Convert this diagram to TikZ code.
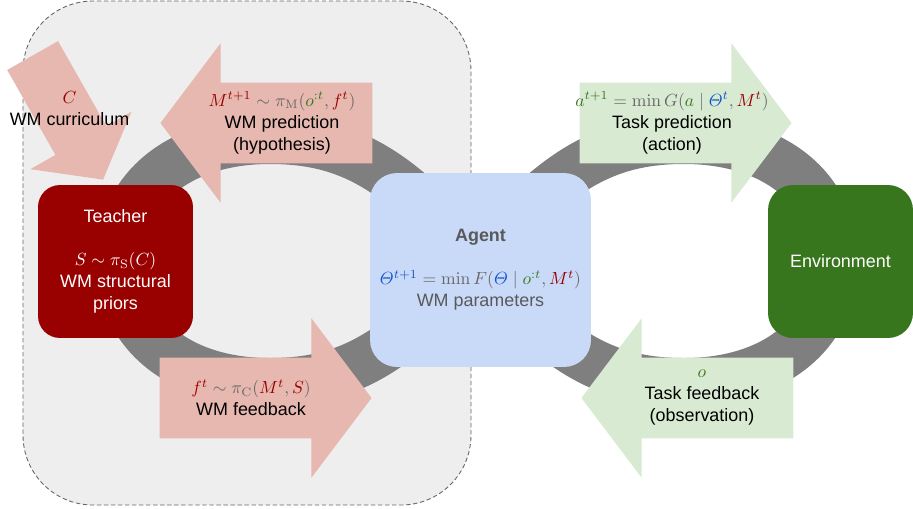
\documentclass[tikz,border=0pt]{standalone}
\usepackage{amsmath}
\usepackage[no-math]{fontspec}
\setmainfont{Liberation Sans}
\usetikzlibrary{shapes.arrows}
\definecolor{wmred}{HTML}{990000}
\definecolor{wmgreen}{HTML}{38761D}
\definecolor{wmblue}{HTML}{1155CC}
\definecolor{wmgray}{HTML}{666666}
\definecolor{agenttext}{HTML}{595959}
\definecolor{pinkfill}{HTML}{E6B8AF}
\definecolor{greenfill}{HTML}{D9EAD3}
\definecolor{agentfill}{HTML}{C9DAF8}
\definecolor{teacherred}{HTML}{990000}
\definecolor{envgreen}{HTML}{38761D}
\definecolor{loopgray}{HTML}{7F7F7F}
\definecolor{groupgray}{HTML}{EEEEEE}
\newcommand{\lblfont}{\fontsize{10.2}{12.5}\selectfont}
\tikzset{
box/.style={rounded corners=0.45cm, inner sep=0pt, align=center, font=\lblfont, minimum height=3.06cm}, % the three players
blockarrow/.style={single arrow, inner xsep=0pt, inner ysep=0.8cm, anchor=tip, minimum height=4.24cm,
  single arrow head extend=0.79cm, single arrow tip angle=105.9}, % big flat arrows
lbl/.style={align=center, font=\lblfont, inner sep=0pt}, % text on the arrows
loopband/.style={draw=loopgray, line width=0.96cm, line join=round}, % the figure eight behind
groupbox/.style={draw=wmgray, fill=groupgray, dash pattern=on 2.5pt off 1.5pt, line width=0.5pt, rounded corners=1.4cm},
}

\begin{document}
\begin{tikzpicture}[x=0.02cm, y=-0.02cm]
  \useasboundingbox (0,0) rectangle (913,508);
  \draw[groupbox] (23,1) rectangle (471,505);

  % figure eight
  \coordinate (cross) at (477,261);
  \draw[loopband] (cross) .. controls (554,171) and (604,140) .. (684,140)
    .. controls (774,140) and (834,188) .. (834,261)
    .. controls (834,334) and (774,382) .. (684,382)
    .. controls (604,382) and (554,351) .. (cross)
    .. controls (400,171) and (350,140) .. (270,140)
    .. controls (180,140) and (120,188) .. (120,261)
    .. controls (120,334) and (180,382) .. (270,382)
    .. controls (350,382) and (400,351) .. cycle;

  \node[blockarrow, fill=pinkfill, rotate=-60.4, minimum height=2.854cm, inner ysep=0.578cm,
    single arrow head extend=0.577cm, single arrow tip angle=104.5] (currarrow) at (103.3,180) {};
  \node[blockarrow, fill=pinkfill, shape border rotate=180] (predarrow) at (160,123) {};
  \node[blockarrow, fill=pinkfill] (feedarrow) at (372,398) {};
  \node[blockarrow, fill=greenfill] (taskarrow) at (792,123) {};
  \node[blockarrow, fill=greenfill, shape border rotate=180] (obsarrow) at (581,398) {};

  \node[box, fill=teacherred, text=white, minimum width=3.1cm, rounded corners=0.44cm] (teacher) at (115.5,261.5)
    {Teacher\\[12pt]$S\sim\pi_{\mathrm{S}}(C)$\\WM structural\\priors};
  \node[box, fill=agentfill, text=agenttext, minimum width=4.42cm, minimum height=3.88cm, rounded corners=0.54cm] (agent) at (480.5,270)
    {\textbf{Agent}\\[12pt]$\color{wmblue}\varTheta^{t+1}\color{wmgray}=\min F(\color{wmblue}\varTheta\color{wmgray}\mid\color{wmgreen}o^{:t}\color{wmgray},\color{wmred}M^{t}\color{wmgray})$\\WM parameters};
  \node[box, fill=envgreen, text=white, minimum width=2.9cm, rounded corners=0.5cm] (env) at (840.5,261.5) {Environment};

  \node[lbl] (currtext) at (69.5,108.5) {$\color{wmred}C$\\WM curriculum};
  \node[lbl] (predtext) at (282,123)
    {$\color{wmred}M^{t+1}\color{wmgray}\sim\pi_{\mathrm{M}}(\color{wmgreen}o^{:t}\color{wmgray},\color{wmred}f^{t}\color{wmgray})$\\WM prediction\\(hypothesis)};
  \node[lbl] (feedtext) at (251,398)
    {$\color{wmred}f^{t}\color{wmgray}\sim\pi_{\mathrm{C}}(\color{wmred}M^{t}\color{wmgray},\color{wmred}S\color{wmgray})$\\WM feedback};
  \node[lbl] (tasktext) at (672,123)
    {$\color{wmgreen}a^{t+1}\color{wmgray}=\min G(\color{wmgreen}a\color{wmgray}\mid\color{wmblue}\varTheta^{t}\color{wmgray},\color{wmred}M^{t}\color{wmgray})$\\Task prediction\\(action)};
  \node[lbl] (obstext) at (702,398) {$\color{wmgreen}o$\\Task feedback\\(observation)};
\end{tikzpicture}
\end{document}
